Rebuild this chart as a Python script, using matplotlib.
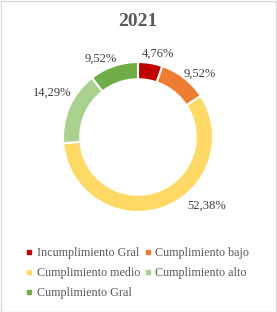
import matplotlib.pyplot as plt
from matplotlib.lines import Line2D
from matplotlib.patches import Rectangle

categories = ["Incumplimiento Gral", "Cumplimiento bajo", "Cumplimiento medio",
              "Cumplimiento alto", "Cumplimiento Gral"]
values = [4.76, 9.52, 52.38, 14.29, 9.52]
labels = ["4,76%", "9,52%", "52,38%", "14,29%", "9,52%"]
colors = ["#C00000", "#ED7D31", "#FFD966", "#A9D18E", "#70AD47"]
title = "2021"

# where the data labels sit, relative to donut centre (in units of outer radius)
label_xy = [(0.27, 1.11), (0.83, 0.85), (0.91, -0.91), (-1.15, 0.59), (-0.5, 1.05)]

plt.rcParams['font.family'] = ['Liberation Serif', 'DejaVu Serif']

W, H = 277, 312
fig = plt.figure(figsize=(W / 100, H / 100), dpi=100)
fig.patches.append(Rectangle((0.5 / W, 0.5 / H), 1 - 1.5 / W, 1 - 1.5 / H, transform=fig.transFigure,
                             fill=False, edgecolor="#D9D9D9", linewidth=1))

# donut centre ~ (138, 137) px, outer radius ~75 px
cx, cy, r = 138, 137, 75
ax = fig.add_axes([(cx - r) / W, (H - cy - r) / H, 2 * r / W, 2 * r / H])
wedges, _ = ax.pie(values, colors=colors, startangle=90, counterclock=False, radius=1,
                   wedgeprops=dict(width=0.23, edgecolor="white", linewidth=1.5))
for lab, (x, y) in zip(labels, label_xy):
    ax.text(x, y, lab, ha="center", va="center", fontsize=9.1, color="#404040")
ax.set_xlim(-1, 1)
ax.set_ylim(-1, 1)
ax.set_aspect("equal")
ax.axis("off")

fig.text(cx / W, 1 - 21 / H, title, ha="center", va="center", fontsize=14,
         fontweight="bold", color="#595959")

# row-major order like the original legend
order = [0, 2, 4, 1, 3]
handles = [Line2D([], [], marker="s", linestyle="", markersize=2.6, color=colors[i]) for i in order]
leg = fig.legend(handles, [categories[i] for i in order], ncol=2, loc="upper left",
                 bbox_to_anchor=(26 / W, 1 - 247 / H), frameon=False, fontsize=8.7,
                 handlelength=0.5, handletextpad=0.4, columnspacing=0.35,
                 labelspacing=0.68, borderpad=0, borderaxespad=0)
for t in leg.get_texts():
    t.set_color("#595959")

plt.savefig("out.png", dpi=100)
